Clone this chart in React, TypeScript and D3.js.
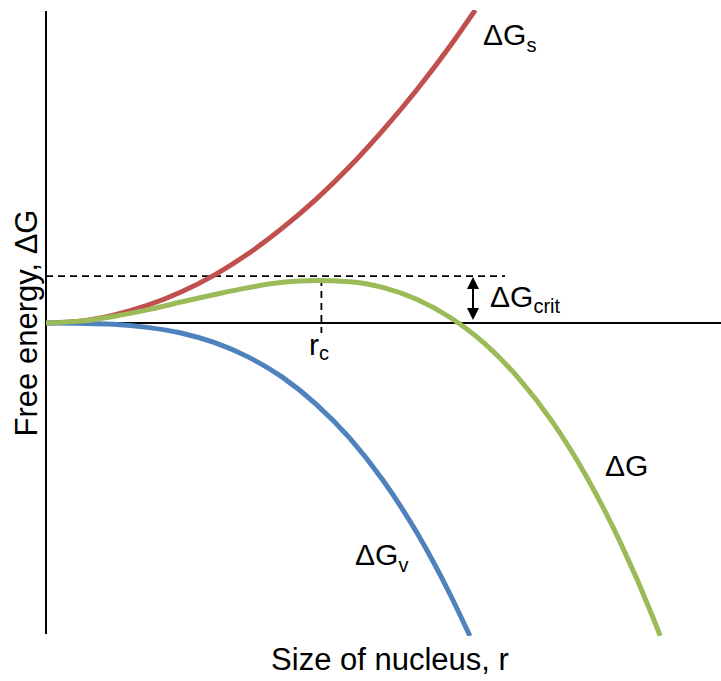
import * as d3 from "d3";

// size of nucleus r (arbitrary units) and free-energy terms
const rSurface = [0, 0.5, 1, 1.5, 2, 2.5, 3, 3.5, 4, 4.5, 5, 5.5, 6, 6.36];
const gSurface = [0, 0.06, 0.25, 0.56, 0.99, 1.54, 2.22, 3.03, 3.95, 5.0, 6.18, 7.47, 8.89, 10];

const rVolume = [0, 0.5, 1, 1.5, 2, 2.5, 3, 3.5, 4, 4.5, 5, 5.5, 6, 6.28];
const gVolume = [0, -0.01, -0.04, -0.14, -0.32, -0.63, -1.09, -1.73, -2.59, -3.68, -5.05, -6.72, -8.73, -10];

const rTotal = [0, 0.5, 1, 1.5, 2, 2.5, 3, 3.5, 4, 4.5, 5, 5.5, 6, 6.5, 7, 7.5, 8, 8.5, 9, 9.1];
const gTotal = [0, 0.06, 0.21, 0.42, 0.67, 0.91, 1.13, 1.3, 1.36, 1.32, 1.13, 0.75, 0.16, -0.66, -1.76, -3.15, -4.88, -6.97, -9.45, -10];

const rCrit = 4.08;
const gCrit = 1.5;
const dashEndR = 6.8;
const rcDashBottom = -0.32;

const W = 721;
const H = 681;
const FONT = "'Liberation Sans', Arial, sans-serif";

export default function App() {
  const x = d3.scaleLinear().domain([0, 10]).range([46, 721]);
  const y = d3.scaleLinear().domain([-10, 10]).range([636, 10]);

  const line = d3.line<[number, number]>()
    .x((d) => x(d[0]))
    .y((d) => y(d[1]))
    .curve(d3.curveMonotoneX);

  const zip = (a: number[], b: number[]) => a.map((v, i) => [v, b[i]] as [number, number]);

  const series = [
    { pts: zip(rSurface, gSurface), color: "#C0504D" },
    { pts: zip(rVolume, gVolume), color: "#4F81BD" },
    { pts: zip(rTotal, gTotal), color: "#9BBB59" },
  ];

  const ax = 473;
  const yTop = y(gCrit) + 1;
  const yBot = y(0) - 3;

  return (
    <svg width={W} height={H} style={{ position: "absolute", left: 0, top: 0, background: "#fff" }}>
      <defs>
        <clipPath id="plot">
          <rect x={0} y={10} width={W} height={626} />
        </clipPath>
      </defs>

      {/* axes */}
      <line x1={x(0)} x2={x(0)} y1={11} y2={634} stroke="#000" strokeWidth={2} />
      <line x1={x(0)} x2={721} y1={y(0)} y2={y(0)} stroke="#000" strokeWidth={2} />

      {/* dashed guides */}
      <line x1={x(0)} x2={x(dashEndR)} y1={y(gCrit)} y2={y(gCrit)}
        stroke="#000" strokeWidth={1.8} strokeDasharray="7,5" />
      <line x1={x(rCrit)} x2={x(rCrit)} y1={y(gCrit) + 3} y2={y(rcDashBottom)}
        stroke="#000" strokeWidth={1.8} strokeDasharray="7,5" />

      {/* curves */}
      <g clipPath="url(#plot)">
        {series.map((s, i) => (
          <path key={i} d={line(s.pts) ?? ""} fill="none" stroke={s.color} strokeWidth={5} />
        ))}
      </g>

      {/* double arrow for ΔGcrit */}
      <line x1={ax} x2={ax} y1={yTop + 8} y2={yBot - 8} stroke="#000" strokeWidth={2} />
      <path d={`M${ax},${yTop} L${ax - 6},${yTop + 12} L${ax + 6},${yTop + 12} Z`} fill="#000" />
      <path d={`M${ax},${yBot} L${ax - 6},${yBot - 12} L${ax + 6},${yBot - 12} Z`} fill="#000" />

      <g fontFamily={FONT} fill="#000">
        <text x={483} y={45} fontSize={30}>ΔG<tspan fontSize={20} dy={7}>s</tspan></text>
        <text x={490} y={307} fontSize={30}>ΔG<tspan fontSize={20} dy={6}>crit</tspan></text>
        <text x={309} y={355} fontSize={30}>r<tspan fontSize={20} dy={5}>c</tspan></text>
        <text x={355} y={565} fontSize={30}>ΔG<tspan fontSize={20} dy={7}>v</tspan></text>
        <text x={605} y={476} fontSize={30}>ΔG</text>

        <text x={390} y={670} fontSize={31} textAnchor="middle">Size of nucleus, r</text>
        <text transform={`translate(37,${y(0)}) rotate(-90)`} fontSize={31} textAnchor="middle">
          Free energy, ΔG
        </text>
      </g>
    </svg>
  );
}
